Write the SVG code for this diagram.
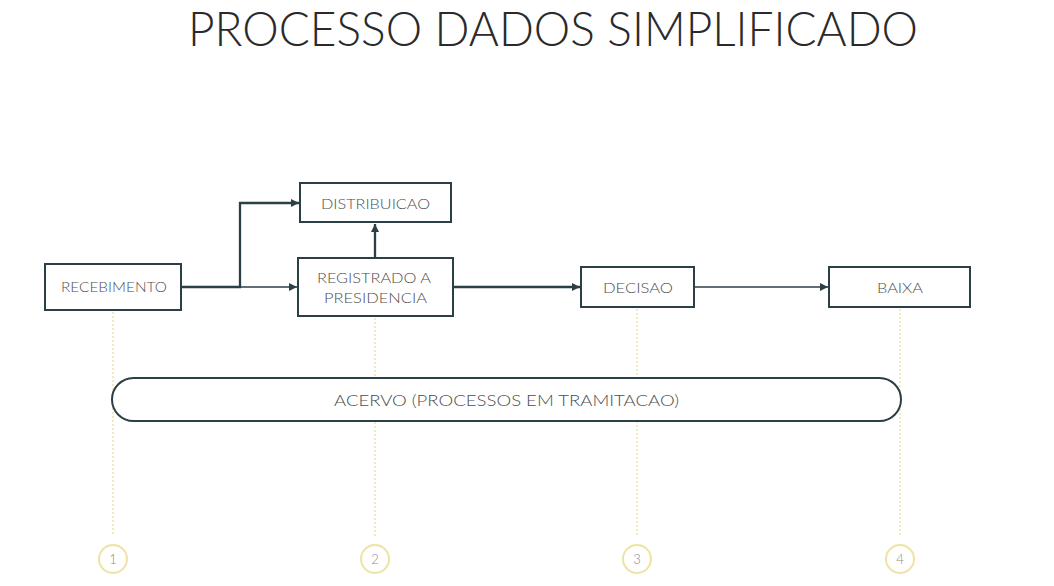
<svg xmlns="http://www.w3.org/2000/svg" width="1054" height="586" viewBox="0 0 1054 586">
<defs>
<style>
.box{fill:#ffffff;stroke:#2b3f47;stroke-width:2}
.lbl{font-family:Lato,"Open Sans","Liberation Sans",sans-serif;font-weight:300;fill:#4d4d4d;font-size:14px}
.con{fill:none;stroke:#2b3f47;stroke-width:2.3}
.thin{fill:none;stroke:#2b3f47;stroke-width:1.4}
.dot{stroke:#efe2a2;stroke-width:1.5;stroke-dasharray:2 2;fill:none}
.circ{fill:#ffffff;stroke:#eee3a3;stroke-width:2}
.num{font-family:Lato,"Open Sans","Liberation Sans",sans-serif;font-weight:300;fill:#8a8a8a;font-size:13px;text-anchor:middle}
</style>
<marker id="arr" viewBox="0 0 10 10" refX="10" refY="5" markerWidth="10" markerHeight="8" markerUnits="userSpaceOnUse" orient="auto">
<path d="M0,0 L10,5 L0,10 z" fill="#2b3f47"/>
</marker>
</defs>
<rect width="1054" height="586" fill="#ffffff"/>
<text x="188" y="46" textLength="730" lengthAdjust="spacingAndGlyphs" style="font-family:Lato,'Open Sans','Liberation Sans',sans-serif;font-weight:300;font-size:47px;fill:#2a2a2a">PROCESSO DADOS SIMPLIFICADO</text>

<g id="timeline">
<line class="dot" x1="113" y1="312" x2="113" y2="536"/>
<line class="dot" x1="375" y1="318" x2="375" y2="536"/>
<line class="dot" x1="637" y1="309" x2="637" y2="536"/>
<line class="dot" x1="900" y1="309" x2="900" y2="536"/>
<circle class="circ" cx="113" cy="559" r="14"/>
<circle class="circ" cx="375" cy="559" r="14"/>
<circle class="circ" cx="637" cy="559" r="14"/>
<circle class="circ" cx="900" cy="559" r="14"/>
<text class="num" x="113" y="564">1</text>
<text class="num" x="375" y="564">2</text>
<text class="num" x="637" y="564">3</text>
<text class="num" x="900" y="564">4</text>
</g>

<g id="connectors">
<path class="con" d="M182,287 H240 V203 H299" marker-end="url(#arr)"/>
<path class="thin" d="M240,287 H297" marker-end="url(#arr)"/>
<path class="con" d="M375,258 V224" marker-end="url(#arr)"/>
<path class="con" d="M454,287 H580" marker-end="url(#arr)"/>
<path class="thin" d="M695,287 H828" marker-end="url(#arr)"/>
</g>

<g id="recebimento">
<rect class="box" x="45" y="264" width="136" height="46"/>
<text class="lbl" x="61" y="292" textLength="106" lengthAdjust="spacingAndGlyphs">RECEBIMENTO</text>
</g>
<g id="distribuicao">
<rect class="box" x="300" y="183" width="151" height="39"/>
<text class="lbl" x="321" y="209" textLength="109" lengthAdjust="spacingAndGlyphs">DISTRIBUICAO</text>
</g>
<g id="registrado">
<rect class="box" x="298" y="258" width="155" height="58"/>
<text class="lbl" x="317" y="283" textLength="114" lengthAdjust="spacingAndGlyphs">REGISTRADO A</text>
<text class="lbl" x="324" y="303" textLength="103" lengthAdjust="spacingAndGlyphs">PRESIDENCIA</text>
</g>
<g id="decisao">
<rect class="box" x="581" y="267" width="113" height="40"/>
<text class="lbl" x="603" y="293" textLength="70" lengthAdjust="spacingAndGlyphs">DECISAO</text>
</g>
<g id="baixa">
<rect class="box" x="829" y="267" width="141" height="40"/>
<text class="lbl" x="877" y="293" textLength="46" lengthAdjust="spacingAndGlyphs">BAIXA</text>
</g>
<g id="acervo">
<rect class="box" x="112" y="378" width="789" height="43" rx="21.5" ry="21.5"/>
<text class="lbl" x="334" y="406" textLength="345" lengthAdjust="spacingAndGlyphs" style="font-size:16px">ACERVO (PROCESSOS EM TRAMITACAO)</text>
</g>
</svg>
